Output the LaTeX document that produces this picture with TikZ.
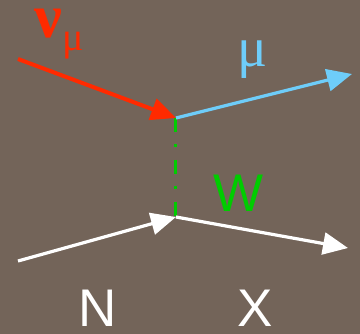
\documentclass[tikz,border=0pt]{standalone}
\usepackage{fontspec}
\setmainfont{Liberation Sans}
\newfontfamily\greekfont{Liberation Serif}
\usetikzlibrary{arrows.meta}
\definecolor{bgc}{RGB}{115,100,89}
\definecolor{nured}{RGB}{255,42,0}
\definecolor{mublue}{RGB}{110,205,250}
\definecolor{wgreen}{RGB}{0,204,0}
\tikzset{
  particle/.style={line width=3.2pt, -{Triangle[length=25pt,width=22pt]}},
  label/.style={inner sep=0pt, anchor=base, text height=0.72em, text depth=0.15em, font=\fontsize{53}{60}\selectfont},
}
\begin{document}
\begin{tikzpicture}[x=1pt,y=-1pt]
\fill[bgc] (0,0) rectangle (360,334);
\useasboundingbox (0,0) rectangle (360,334);
\coordinate (v1) at (176,118);
\coordinate (v2) at (176,217);
\coordinate (nuin) at (18,59);
\coordinate (muout) at (352,74);
\coordinate (nin) at (18,261);
\coordinate (xout) at (348,248);
\draw[wgreen, line width=3pt, dash pattern=on 14pt off 12pt on 3pt off 13pt] (v1) -- (v2);
\draw[particle, nured, line width=4pt] (nuin) -- (v1);
\draw[particle, mublue] (v1) -- (muout);
\draw[particle, white] (nin) -- (v2);
\draw[particle, white] (v2) -- (xout);
\node[label, nured, text height=0.45em, font=\greekfont\bfseries\fontsize{62}{70}\selectfont] (nu) at (48.5,38) {ν};
\node[label, nured, text height=0.45em, font=\greekfont\fontsize{40}{46}\selectfont] (nusub) at (73,51) {μ};
\node[label, mublue, text height=0.45em, font=\greekfont\fontsize{56}{64}\selectfont] (mu) at (253,67) {μ};
\node[label, wgreen] (w) at (239,212) {W};
\node[label, white] (n) at (97.5,327) {N};
\node[label, white] (x) at (255,327) {X};
\end{tikzpicture}
\end{document}
